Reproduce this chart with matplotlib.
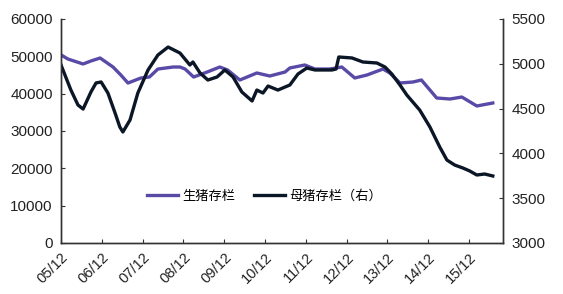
import matplotlib.pyplot as plt
from matplotlib.transforms import ScaledTranslation

# months since 2005-12 and values
pig_month = [0, 2, 6.5, 8.8, 11.5, 15.3, 17.6, 19.7, 23.5, 26, 28.5, 33, 35, 36.5,
             39, 43, 46.7, 49, 52.6, 57.6, 61.4, 65.9, 67.3, 71.7, 74.7, 79, 82.6,
             86.4, 90, 94.7, 96.7, 99.7, 103.5, 106, 110.5, 114.4, 117.9, 122.3, 127]
pig_stock = [50400, 49290, 47950, 48750, 49550, 47140, 45000, 42850, 44200, 44460,
             46600, 47140, 47140, 46600, 44460, 45800, 47140, 46340, 43660, 45540,
             44730, 45800, 46880, 47680, 46600, 46600, 47140, 44200, 45000, 46600,
             45540, 42860, 43120, 43660, 38840, 38570, 39100, 36700, 37500]

sow_month = [0, 2.9, 5, 6.5, 8.8, 10.3, 11.8, 13.8, 15.9, 17.3, 18.2, 20.3, 22.6,
             25.6, 28.5, 31.5, 35, 37.9, 38.8, 40.9, 43.2, 45.9, 48.2, 50.6, 53.2,
             56.2, 57.6, 59.4, 60.9, 63.8, 65.9, 67.3, 69.7, 72.3, 74.7, 79.7, 80.9,
             81.7, 85.6, 88.8, 92.9, 95.3, 97.3, 99.7, 101.7, 105.5, 108.5, 111.4,
             113.5, 115.8, 118.2, 120.2, 122.3, 124.6, 127]
sow_stock = [4987, 4708, 4540, 4495, 4685, 4786, 4797, 4674, 4451, 4295, 4239, 4373,
             4674, 4931, 5098, 5187, 5120, 4987, 5020, 4897, 4819, 4853, 4931, 4853,
             4685, 4585, 4707, 4674, 4752, 4707, 4741, 4763, 4886, 4953, 4931, 4931,
             4942, 5076, 5065, 5020, 5009, 4964, 4886, 4763, 4652, 4484, 4295, 4071,
             3926, 3870, 3837, 3804, 3759, 3770, 3748]

tick_labels = ['05/12', '06/12', '07/12', '08/12', '09/12', '10/12',
               '11/12', '12/12', '13/12', '14/12', '15/12']

purple = '#5a4aa8'
dark = '#0b1626'

fig = plt.figure(figsize=(5.63, 2.94), dpi=100)
ax = fig.add_axes([61 / 563, 1 - 243 / 294, 442 / 563, 224 / 294])
ax2 = ax.twinx()

l1, = ax.plot(pig_month, pig_stock, color=purple, lw=2.4, label='生猪存栏')
l2, = ax2.plot(sow_month, sow_stock, color=dark, lw=2.4, label='母猪存栏（右）')

ax.set_xlim(0, 130)
ax.set_ylim(0, 60000)
ax2.set_ylim(3000, 5500)
ax.set_yticks(range(0, 60001, 10000))
ax2.set_yticks(range(3000, 5501, 500))
ax.set_xticks([12 * i for i in range(len(tick_labels))])
ax.set_xticklabels(tick_labels, rotation=45, ha='right', rotation_mode='anchor',
                   fontsize=10.5, family='Liberation Sans', color='#222222')
shift = ScaledTranslation(-0.13, -0.04, fig.dpi_scale_trans)
for lab in ax.get_xticklabels():
    lab.set_transform(lab.get_transform() + shift)

for a in (ax, ax2):
    a.spines['top'].set_visible(False)
    for s in a.spines.values():
        s.set_color('#333333')
        s.set_linewidth(1.0)
    a.tick_params(direction='in', length=3, color='#333333')
    for lab in a.get_yticklabels():
        lab.set_family('Liberation Sans')
        lab.set_fontsize(11)
        lab.set_color('#222222')
ax.tick_params(axis='x', pad=5)
ax.tick_params(axis='y', pad=6)
ax2.tick_params(axis='y', pad=6)

ax.legend([l1, l2], ['生猪存栏', '母猪存栏（右）'], loc='center',
          bbox_to_anchor=(0.46, 0.21), ncol=2, frameon=False,
          prop={'family': ['Noto Sans CJK SC', 'DejaVu Sans'], 'size': 9.5},
          handlelength=2.4, columnspacing=1.4, handletextpad=0.3)

fig.savefig('out.png', dpi=100)
